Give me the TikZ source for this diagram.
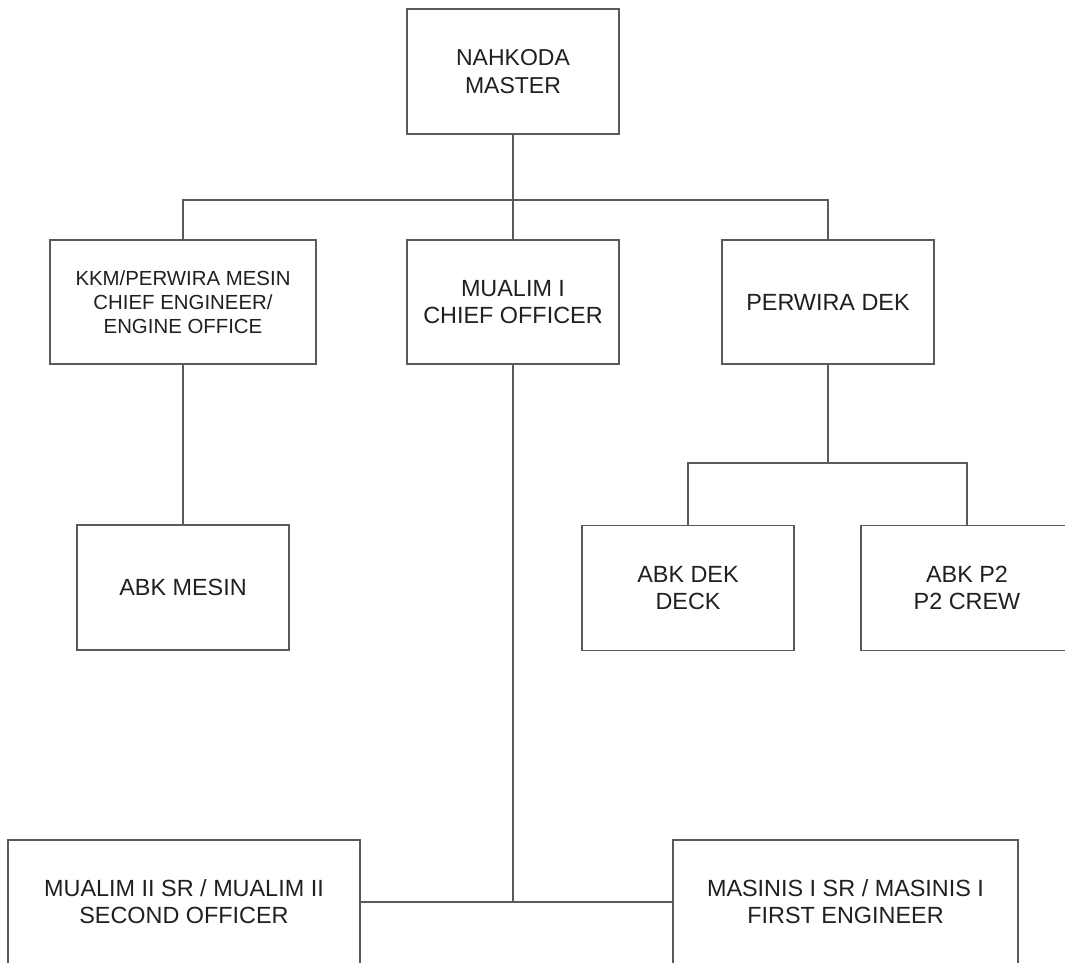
\documentclass[tikz,border=0pt]{standalone}
\usepackage{fontspec}
\setmainfont{Liberation Sans}
\definecolor{linegray}{HTML}{5A5A5A}
\definecolor{textdark}{HTML}{202020}
\begin{document}
\begin{tikzpicture}[x=1pt,y=-1pt,
  box/.style={draw=linegray, line width=1.3pt, fill=white, inner sep=0pt, outer sep=0pt,
    align=center, text=textdark, font=\fontsize{23.4}{27}\selectfont},
  smallbox/.style={box, font=\fontsize{20.4}{24.2}\selectfont},
  conn/.style={draw=linegray, line width=1.3pt}]
\useasboundingbox (0,0) rectangle (1065,962);
\fill[white] (0,0) rectangle (1065,962);
\node[box, font=\fontsize{23}{27.5}\selectfont, minimum width=212pt, minimum height=125pt] (nah) at (513,71.5) {NAHKODA\\MASTER};
\node[smallbox, minimum width=266pt, minimum height=124pt] (kkm) at (183,302) {KKM/PERWIRA MESIN\\CHIEF ENGINEER/\\ENGINE OFFICE};
\node[box, minimum width=212pt, minimum height=124pt] (mi) at (513,302) {MUALIM I\\CHIEF OFFICER};
\node[box, minimum width=212pt, minimum height=124pt] (pd) at (828,302) {PERWIRA DEK};
\node[box, minimum width=212pt, minimum height=125pt] (mesin) at (183,587.5) {ABK MESIN};
\node[box, minimum width=212pt, minimum height=125pt] (dek) at (688,588) {ABK DEK\\DECK};
\node[box, minimum width=212pt, minimum height=125pt] (p2) at (967,588) {ABK P2\\P2 CREW};
\node[box, minimum width=352pt, minimum height=124pt] (m2) at (184,902) {MUALIM II SR / MUALIM II\\SECOND OFFICER};
\node[box, minimum width=345pt, minimum height=124pt] (mas) at (845.5,902) {MASINIS I SR / MASINIS I\\FIRST ENGINEER};
\coordinate (j1) at (513,200);
\coordinate (j2) at (828,463);
\draw[conn] (nah.south) -- (mi.north);
\draw[conn] (kkm.north) -- (kkm.north |- j1) -- (pd.north |- j1) -- (pd.north);
\draw[conn] (kkm.south) -- (mesin.north);
\draw[conn] (pd.south) -- (j2);
\draw[conn] (dek.north) -- (dek.north |- j2) -- (p2.north |- j2) -- (p2.north);
\draw[conn] (mi.south) -- (mi.south |- m2.east);
\draw[conn] (m2.east) -- (mas.west);
\end{tikzpicture}
\end{document}
